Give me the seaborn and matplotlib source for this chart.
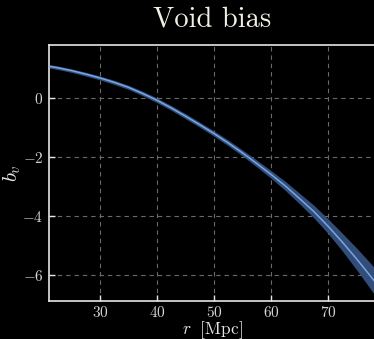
import matplotlib
matplotlib.use("Agg")
import matplotlib.pyplot as plt
import numpy as np
import pandas as pd
import seaborn as sns

# Void bias profile b_v(r) with its 1-sigma band
radius = [21, 22.5, 25, 27.5, 30, 32.5, 35, 37.5, 40, 42.5, 45, 47.5, 50,
          52.5, 55, 57.5, 60, 62.5, 65, 67.5, 70, 72.5, 75, 77.5, 80]
bias = [1.08, 1.03, 0.93, 0.81, 0.68, 0.53, 0.36, 0.15, -0.08, -0.34, -0.62, -0.91, -1.21,
        -1.53, -1.87, -2.23, -2.60, -2.99, -3.42, -3.86, -4.36, -4.90, -5.47, -6.07, -6.70]
bias_err = [0.06, 0.06, 0.06, 0.065, 0.065, 0.07, 0.07, 0.075, 0.08, 0.08, 0.085, 0.085, 0.09,
            0.095, 0.10, 0.115, 0.13, 0.155, 0.18, 0.215, 0.25, 0.30, 0.37, 0.44, 0.50]

x_ticks = [30, 40, 50, 60, 70]
y_ticks = [0, -2, -4, -6]

df = pd.DataFrame({"r": radius, "b": bias, "err": bias_err})

sns.set_theme(style="darkgrid", rc={
    "figure.facecolor": "black",
    "axes.facecolor": "black",
    "axes.edgecolor": "#e6e6e6",
    "axes.linewidth": 1.2,
    "grid.color": "#6a6a6a",
    "grid.linestyle": (0, (4, 3.5)),
    "grid.linewidth": 0.8,
    "xtick.color": "#e6e6e6",
    "ytick.color": "#e6e6e6",
    "xtick.direction": "in",
    "ytick.direction": "in",
    "xtick.major.size": 4,
    "ytick.major.size": 4,
    "xtick.major.width": 1.0,
    "ytick.major.width": 1.0,
    "xtick.bottom": True,
    "ytick.left": True,
    "text.color": "#f2f0e4",
    "axes.labelcolor": "#e6e6e6",
    "mathtext.fontset": "cm",
})
plt.rcParams["font.family"] = ["cmr10", "DejaVu Serif"]

fig = plt.figure(figsize=(3.74, 3.39), dpi=100)
ax = fig.add_axes([49 / 374, 1 - 301 / 339, 327 / 374, 256 / 339])

ax.fill_between(df["r"], df["b"] - df["err"], df["b"] + df["err"],
                color="#34527f", alpha=0.95, linewidth=0, zorder=2)
sns.lineplot(data=df, x="r", y="b", ax=ax, color="#78a6e6", linewidth=1.1, zorder=3)

ax.set_xlim(21.05, 78.4)
ax.set_ylim(-6.9, 1.8)
ax.set_xticks(x_ticks)
ax.set_yticks(y_ticks)
ax.set_xticklabels([f"${v}$" for v in x_ticks], fontsize=11, color="#d4d4d4")
ax.set_yticklabels([f"${v}$" for v in y_ticks], fontsize=11, color="#d4d4d4")
ax.tick_params(axis="x", pad=2.8)
ax.tick_params(axis="y", pad=4)
ax.grid(True, zorder=1)
ax.set_axisbelow(True)
for side in ["top", "bottom", "left", "right"]:
    ax.spines[side].set_visible(True)
    ax.spines[side].set_color("#e6e6e6")

ax.set_xlabel(r"$r\ \ [\mathrm{Mpc}]$", fontsize=12.5, labelpad=-0.3, color="#e6e6e6")
ax.set_ylabel(r"$b_v$", fontsize=15, color="#e6e6e6")
ax.yaxis.set_label_coords(-0.08, 0.5)
ax.set_title("Void bias", fontsize=20.5, pad=13, color="#f2f0e4")

fig.savefig("out.png", dpi=100, facecolor="black")
